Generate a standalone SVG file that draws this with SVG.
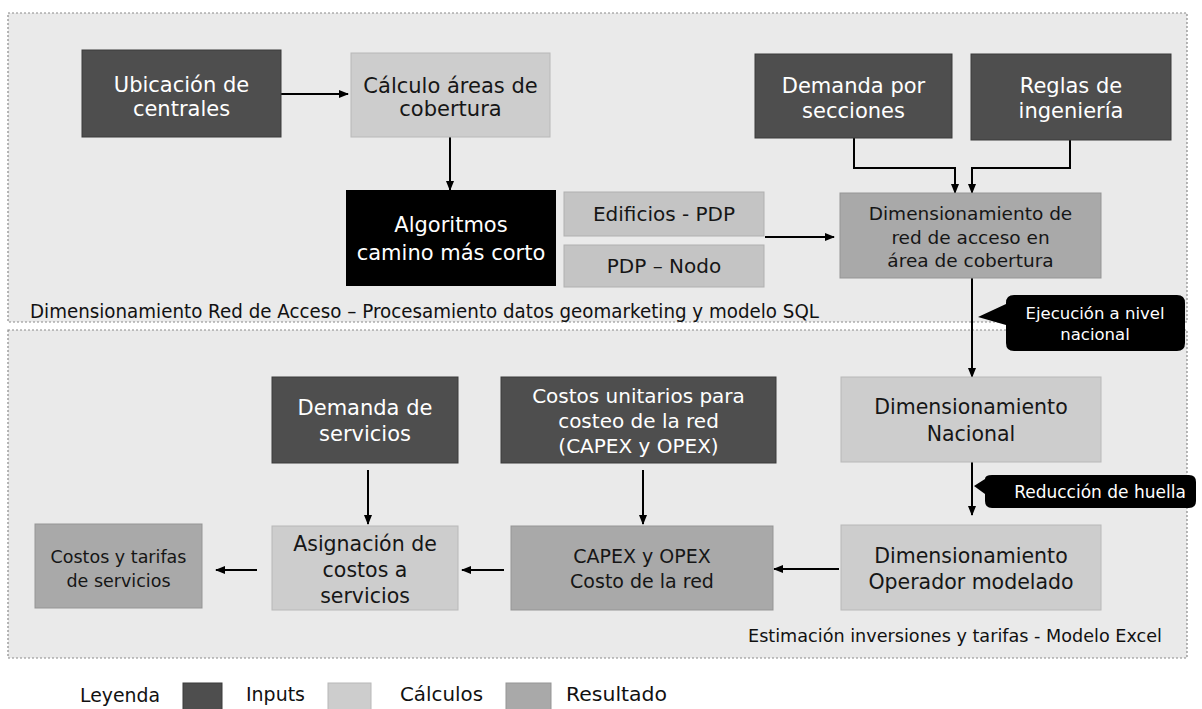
<svg xmlns="http://www.w3.org/2000/svg" width="1202" height="709" viewBox="0 0 1202 709">
  <style>
    text { font-family: "DejaVu Sans", "Liberation Sans", sans-serif; text-anchor: middle; }
    .panel { fill: #eaeaea; stroke: #8a8a8a; stroke-width: 1.2; stroke-dasharray: 2 2; }
    .input { fill: #4e4e4e; stroke: #3a3a3a; stroke-width: 1; }
    .calc { fill: #cdcdcd; stroke: #b8b8b8; stroke-width: 1; }
    .calc2 { fill: #c4c4c4; stroke: #b0b0b0; stroke-width: 1; }
    .result { fill: #a9a9a9; stroke: #959595; stroke-width: 1; }
    .algo { fill: #000000; }
    .callout { fill: #000000; }
    .light { fill: #ffffff; }
    .dark { fill: #161616; }
    .caption { fill: #111111; text-anchor: start; }
    .legend { fill: #111111; text-anchor: start; font-size: 19px; }
    .conn { fill: none; stroke: #000000; stroke-width: 2; }
  </style>
  <defs>
    <marker id="arrow" markerWidth="10" markerHeight="10" refX="9" refY="5" orient="auto" markerUnits="userSpaceOnUse">
      <path d="M0,1 L10,5 L0,9 Z" fill="#000000"/>
    </marker>
  </defs>

  <rect width="1202" height="709" fill="#ffffff"/>

  <!-- Panels -->
  <g id="panel-acceso">
    <rect class="panel" x="8" y="13" width="1179" height="309"/>
    <text class="caption" x="30" y="318" font-size="20" textLength="789" lengthAdjust="spacingAndGlyphs">Dimensionamiento Red de Acceso – Procesamiento datos geomarketing y modelo SQL</text>
  </g>
  <g id="panel-excel">
    <rect class="panel" x="8" y="330" width="1179" height="328"/>
    <text class="caption" x="748" y="642" font-size="17" textLength="414" lengthAdjust="spacingAndGlyphs">Estimación inversiones y tarifas - Modelo Excel</text>
  </g>

  <!-- Connectors -->
  <g id="connectors">
    <line class="conn" x1="281" y1="94" x2="348" y2="94" marker-end="url(#arrow)"/>
    <line class="conn" x1="450" y1="137" x2="450" y2="190" marker-end="url(#arrow)"/>
    <line class="conn" x1="765" y1="237" x2="834" y2="237" marker-end="url(#arrow)"/>
    <polyline class="conn" points="854,138 854,168 955,168 955,193" marker-end="url(#arrow)"/>
    <polyline class="conn" points="1070,140 1070,168 972,168 972,193" marker-end="url(#arrow)"/>
    <line class="conn" x1="972" y1="278" x2="972" y2="377" marker-end="url(#arrow)"/>
    <line class="conn" x1="972" y1="462" x2="972" y2="515" marker-end="url(#arrow)"/>
    <line class="conn" x1="839" y1="569" x2="774" y2="569" marker-end="url(#arrow)"/>
    <line class="conn" x1="643" y1="470" x2="643" y2="524" marker-end="url(#arrow)"/>
    <line class="conn" x1="368" y1="470" x2="368" y2="524" marker-end="url(#arrow)"/>
    <line class="conn" x1="504" y1="570" x2="462" y2="570" marker-end="url(#arrow)"/>
    <line class="conn" x1="257" y1="570" x2="216" y2="570" marker-end="url(#arrow)"/>
  </g>

  <!-- Nodes: access network -->
  <g id="ubicacion-centrales">
    <rect class="input" x="82" y="50" width="199" height="87"/>
    <text class="light" font-size="21"><tspan x="181.5" y="92">Ubicación de</tspan><tspan x="181.5" y="116">centrales</tspan></text>
  </g>
  <g id="calculo-areas">
    <rect class="calc" x="351" y="53" width="199" height="84"/>
    <text class="dark" font-size="21"><tspan x="450.5" y="93">Cálculo áreas de</tspan><tspan x="450.5" y="116">cobertura</tspan></text>
  </g>
  <g id="algoritmos">
    <rect class="algo" x="346" y="190" width="210" height="96"/>
    <text class="light" font-size="21"><tspan x="451" y="232">Algoritmos</tspan><tspan x="451" y="260">camino más corto</tspan></text>
  </g>
  <g id="edificios-pdp">
    <rect class="calc2" x="564" y="192" width="200" height="44"/>
    <text class="dark" x="664" y="221" font-size="20">Edificios - PDP</text>
  </g>
  <g id="pdp-nodo">
    <rect class="calc2" x="564" y="245" width="200" height="42"/>
    <text class="dark" x="664" y="273" font-size="20">PDP – Nodo</text>
  </g>
  <g id="demanda-secciones">
    <rect class="input" x="755" y="54" width="197" height="84"/>
    <text class="light" font-size="21"><tspan x="853.5" y="93">Demanda por</tspan><tspan x="853.5" y="118">secciones</tspan></text>
  </g>
  <g id="reglas-ingenieria">
    <rect class="input" x="971" y="54" width="200" height="86"/>
    <text class="light" font-size="21"><tspan x="1071" y="93">Reglas de</tspan><tspan x="1071" y="118">ingeniería</tspan></text>
  </g>
  <g id="dim-acceso">
    <rect class="result" x="840" y="193" width="261" height="85"/>
    <text class="dark" font-size="18.5"><tspan x="970.5" y="220">Dimensionamiento de</tspan><tspan x="970.5" y="243.5">red de acceso en</tspan><tspan x="970.5" y="267">área de cobertura</tspan></text>
  </g>

  <!-- Callouts -->
  <g id="ejecucion-nacional">
    <path class="callout" d="M978,317 L1006,304 L1006,303 Q1006,295 1014,295 L1177,295 Q1185,295 1185,303 L1185,343 Q1185,351 1177,351 L1014,351 Q1006,351 1006,343 L1006,325 Z"/>
    <text class="light" font-size="16.5"><tspan x="1095" y="319">Ejecución a nivel</tspan><tspan x="1095" y="340">nacional</tspan></text>
  </g>
  <g id="reduccion-huella">
    <path class="callout" d="M974,486 L985,479 Q985,475 992,475 L1189,475 Q1196,475 1196,482 L1196,501 Q1196,508 1189,508 L992,508 Q985,508 985,501 L985,494 Z"/>
    <text class="light" x="1100" y="498" font-size="17">Reducción de huella</text>
  </g>

  <!-- Nodes: cost model -->
  <g id="dim-nacional">
    <rect class="calc" x="841" y="377" width="260" height="85"/>
    <text class="dark" font-size="20.5"><tspan x="971" y="414">Dimensionamiento</tspan><tspan x="971" y="441">Nacional</tspan></text>
  </g>
  <g id="dim-operador">
    <rect class="calc" x="841" y="525" width="260" height="85"/>
    <text class="dark" font-size="20.5"><tspan x="971" y="563">Dimensionamiento</tspan><tspan x="971" y="589">Operador modelado</tspan></text>
  </g>
  <g id="costos-unitarios">
    <rect class="input" x="501" y="377" width="275" height="86"/>
    <text class="light" font-size="20"><tspan x="638.5" y="403">Costos unitarios para</tspan><tspan x="638.5" y="428">costeo de la red</tspan><tspan x="638.5" y="453">(CAPEX y OPEX)</tspan></text>
  </g>
  <g id="capex-opex">
    <rect class="result" x="511" y="526" width="262" height="84"/>
    <text class="dark" font-size="19"><tspan x="642" y="563">CAPEX y OPEX</tspan><tspan x="642" y="588">Costo de la red</tspan></text>
  </g>
  <g id="demanda-servicios">
    <rect class="input" x="272" y="377" width="186" height="86"/>
    <text class="light" font-size="21"><tspan x="365" y="415">Demanda de</tspan><tspan x="365" y="441">servicios</tspan></text>
  </g>
  <g id="asignacion-costos">
    <rect class="calc" x="272" y="526" width="186" height="84"/>
    <text class="dark" font-size="20.5"><tspan x="365" y="551">Asignación de</tspan><tspan x="365" y="577">costos a</tspan><tspan x="365" y="603">servicios</tspan></text>
  </g>
  <g id="costos-tarifas">
    <rect class="result" x="35" y="524" width="167" height="84"/>
    <text class="dark" font-size="17.5"><tspan x="118.5" y="563">Costos y tarifas</tspan><tspan x="118.5" y="587">de servicios</tspan></text>
  </g>

  <!-- Legend -->
  <g id="leyenda">
    <text class="legend" x="80" y="702" textLength="80" lengthAdjust="spacingAndGlyphs">Leyenda</text>
    <rect class="input" x="183" y="683" width="39" height="30"/>
    <text class="legend" x="246" y="701" textLength="59" lengthAdjust="spacingAndGlyphs">Inputs</text>
    <rect class="calc" x="328" y="683" width="43" height="30"/>
    <text class="legend" x="400" y="701" textLength="83" lengthAdjust="spacingAndGlyphs">Cálculos</text>
    <rect class="result" x="506" y="683" width="45" height="30"/>
    <text class="legend" x="566" y="701" textLength="101" lengthAdjust="spacingAndGlyphs">Resultado</text>
  </g>
</svg>
